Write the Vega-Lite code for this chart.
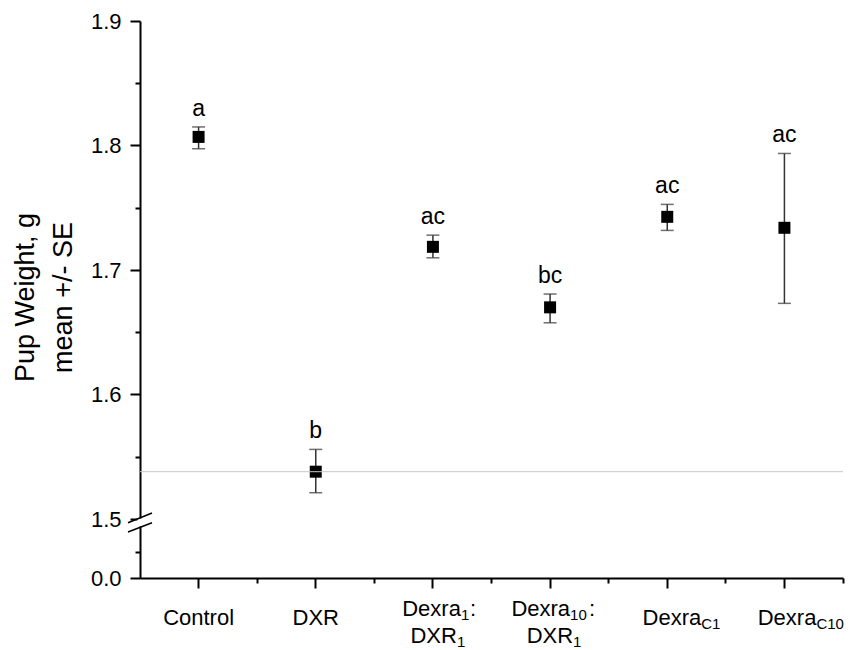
{
  "$schema": "https://vega.github.io/schema/vega-lite/v6.json",
  "width": 703,
  "height": 557,
  "autosize": "none",
  "padding": {"left": 140, "top": 21, "right": 8, "bottom": 72},
  "background": "white",
  "config": {"view": {"stroke": null}, "font": "Liberation Sans"},
  "datasets": {
    "pts": [
      {"cat": "Control", "mean": 1.8069, "lo": 1.7974, "hi": 1.8149, "grp": "a"},
      {"cat": "DXR", "mean": 1.538, "lo": 1.5211, "hi": 1.5559, "grp": "b"},
      {"cat": "Dexra1:DXR1", "mean": 1.7186, "lo": 1.7098, "hi": 1.728, "grp": "ac"},
      {"cat": "Dexra10:DXR1", "mean": 1.67, "lo": 1.6576, "hi": 1.6807, "grp": "bc"},
      {"cat": "DexraC1", "mean": 1.7427, "lo": 1.7318, "hi": 1.7527, "grp": "ac"},
      {"cat": "DexraC10", "mean": 1.7339, "lo": 1.6732, "hi": 1.7936, "grp": "ac"}
    ],
    "labels": [
      {"cat": "Control", "line": 1, "n": 1, "main": "Control", "sub": "", "tail": ""},
      {"cat": "DXR", "line": 1, "n": 1, "main": "DXR", "sub": "", "tail": ""},
      {"cat": "Dexra1:DXR1", "line": 1, "n": 2, "main": "Dexra", "sub": "1", "tail": ":"},
      {"cat": "Dexra1:DXR1", "line": 2, "n": 2, "main": "DXR", "sub": "1", "tail": ""},
      {"cat": "Dexra10:DXR1", "line": 1, "n": 2, "main": "Dexra", "sub": "10", "tail": ":"},
      {"cat": "Dexra10:DXR1", "line": 2, "n": 2, "main": "DXR", "sub": "1", "tail": ""},
      {"cat": "DexraC1", "line": 1, "n": 1, "main": "Dexra", "sub": "C1", "tail": ""},
      {"cat": "DexraC10", "line": 1, "n": 1, "main": "Dexra", "sub": "C10", "tail": ""}
    ],
    "ref": [{"cat": "Control", "level": 1.538, "brk": 1.5}]
  },
  "resolve": {"axis": {"x": "independent"}},
  "layer": [
    {
      "data": {"name": "pts"},
      "mark": {"type": "rule", "color": "#333333", "strokeWidth": 1.5},
      "encoding": {
        "x": {
          "field": "cat", "type": "nominal",
          "scale": {"type": "band", "domain": ["Control", "DXR", "Dexra1:DXR1", "Dexra10:DXR1", "DexraC1", "DexraC10"], "paddingInner": 0, "paddingOuter": 0},
          "axis": {"title": null, "labels": false, "orient": "bottom", "domain": true, "domainColor": "black", "domainWidth": 2, "ticks": true, "tickColor": "black", "tickWidth": 2, "tickSize": 10, "bandPosition": 0.5, "grid": false}
        },
        "y": {
          "field": "lo", "type": "quantitative",
          "scale": {"domain": [0, 1.5, 1.9], "range": [557, 498, 0], "nice": false, "zero": false},
          "axis": {
            "values": [0, 0.65, 1.5, 1.55, 1.6, 1.65, 1.7, 1.75, 1.8, 1.85, 1.9],
            "labelExpr": "abs(datum.value*10 - round(datum.value*10)) > 0.1 ? '' : format(datum.value, '.1f')",
            "tickSize": {"condition": {"test": "abs(datum.value*10 - round(datum.value*10)) > 0.1", "value": 5}, "value": 10},
            "tickColor": "black", "tickWidth": 2,
            "domainColor": "black", "domainWidth": 2,
            "labelFontSize": 22, "labelColor": "black", "labelPadding": 9, "labelFont": "Liberation Sans",
            "grid": false,
            "title": ["Pup Weight, g", "mean +/- SE"],
            "titleFontSize": 27, "titleFontWeight": "normal", "titleColor": "black", "titleFont": "Liberation Sans",
            "titleLineHeight": 38, "titleAngle": -90, "titleAlign": "center", "titleBaseline": "alphabetic",
            "titleX": -107, "titleY": 276
          }
        },
        "y2": {"field": "hi"}
      }
    },
    {
      "data": {"name": "pts"},
      "mark": {"type": "tick", "color": "#333333", "thickness": 1.5, "size": 13},
      "encoding": {
        "x": {"field": "cat", "type": "nominal", "axis": null},
        "y": {"field": "hi", "type": "quantitative"}
      }
    },
    {
      "data": {"name": "pts"},
      "mark": {"type": "tick", "color": "#333333", "thickness": 1.5, "size": 13},
      "encoding": {
        "x": {"field": "cat", "type": "nominal", "axis": null},
        "y": {"field": "lo", "type": "quantitative"}
      }
    },
    {
      "data": {"name": "pts"},
      "mark": {"type": "point", "shape": "square", "size": 144, "filled": true, "color": "black", "opacity": 1},
      "encoding": {
        "x": {"field": "cat", "type": "nominal", "axis": null},
        "y": {"field": "mean", "type": "quantitative"}
      }
    },
    {
      "data": {"name": "pts"},
      "mark": {"type": "text", "fontSize": 23, "color": "black", "baseline": "alphabetic", "align": "center", "dy": -11},
      "encoding": {
        "x": {"field": "cat", "type": "nominal", "axis": null},
        "y": {"field": "hi", "type": "quantitative"},
        "text": {"field": "grp"}
      }
    },
    {
      "data": {"name": "ref"},
      "mark": {"type": "rule", "color": "#c8c8c8", "strokeWidth": 1},
      "encoding": {
        "y": {"field": "level", "type": "quantitative"}
      }
    },
    {
      "data": {"name": "ref"},
      "mark": {"type": "point", "shape": "M-0.22,-0.05L0.22,-0.05L0.22,0.62L-0.22,0.62Z", "size": 576, "filled": true, "fill": "white", "strokeWidth": 0, "opacity": 1},
      "encoding": {
        "x": {"field": "cat", "type": "nominal", "bandPosition": 0, "axis": null},
        "y": {"field": "brk", "type": "quantitative"}
      }
    },
    {
      "data": {"name": "ref"},
      "mark": {"type": "point", "shape": "M-1,0.31L1,-0.5M-1,1.08L1,0.31", "size": 576, "filled": false, "stroke": "black", "strokeWidth": 1.5, "opacity": 1},
      "encoding": {
        "x": {"field": "cat", "type": "nominal", "bandPosition": 0, "axis": null},
        "y": {"field": "brk", "type": "quantitative"}
      }
    },
    {
      "data": {"name": "labels"},
      "mark": {
        "type": "text", "fontSize": 22, "color": "black", "baseline": "alphabetic",
        "align": {"expr": "datum.sub == '' ? 'center' : 'right'"},
        "dx": {"expr": "datum.cat == 'Dexra1:DXR1' ? (datum.line == 1 ? 28 : 24) : datum.cat == 'Dexra10:DXR1' ? (datum.line == 1 ? 20 : 23) : datum.cat == 'DexraC1' ? 34 : datum.cat == 'DexraC10' ? 32 : 0"},
        "dy": {"expr": "datum.n == 1 ? 47 : (datum.line == 1 ? 38 : 65)"}
      },
      "encoding": {
        "x": {
          "field": "cat", "type": "nominal",
          "axis": {"title": null, "labels": false, "orient": "bottom", "domain": false, "ticks": true, "tickColor": "black", "tickWidth": 2, "tickSize": 5, "bandPosition": 1, "grid": false}
        },
        "y": {"datum": 0, "type": "quantitative"},
        "text": {"field": "main"}
      }
    },
    {
      "data": {"name": "labels"},
      "transform": [{"filter": "datum.sub != ''"}],
      "mark": {
        "type": "text", "fontSize": 15, "color": "black", "baseline": "alphabetic", "align": "left",
        "dx": {"expr": "datum.cat == 'Dexra1:DXR1' ? (datum.line == 1 ? 28 : 24) : datum.cat == 'Dexra10:DXR1' ? (datum.line == 1 ? 20 : 23) : datum.cat == 'DexraC1' ? 34 : datum.cat == 'DexraC10' ? 32 : 0"},
        "dy": {"expr": "(datum.n == 1 ? 47 : (datum.line == 1 ? 38 : 65)) + 4"}
      },
      "encoding": {
        "x": {"field": "cat", "type": "nominal", "axis": null},
        "y": {"datum": 0, "type": "quantitative"},
        "text": {"field": "sub"}
      }
    },
    {
      "data": {"name": "labels"},
      "transform": [{"filter": "datum.tail != ''"}],
      "mark": {
        "type": "text", "fontSize": 22, "color": "black", "baseline": "alphabetic", "align": "left",
        "dx": {"expr": "datum.cat == 'Dexra1:DXR1' ? 37 : 39"},
        "dy": 38
      },
      "encoding": {
        "x": {"field": "cat", "type": "nominal", "axis": null},
        "y": {"datum": 0, "type": "quantitative"},
        "text": {"field": "tail"}
      }
    }
  ]
}
